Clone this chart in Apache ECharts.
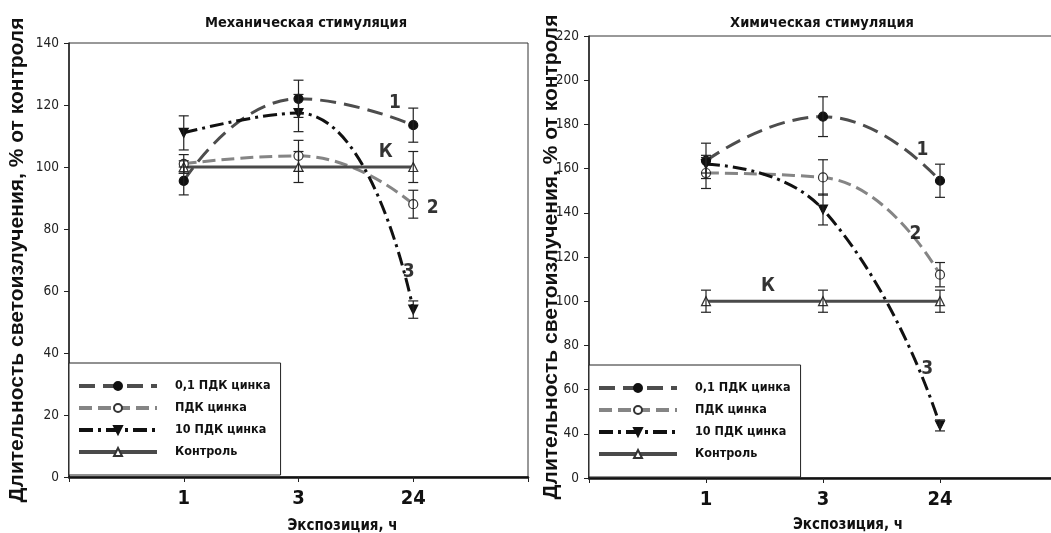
<!DOCTYPE html>
<html>
<head>
<meta charset="utf-8">
<script src="https://cdn.jsdelivr.net/npm/echarts@6/dist/echarts.min.js"></script>
<style>
  html, body { margin: 0; padding: 0; background: #fff; }
  #chart { width: 1051px; height: 533px; }
</style>
</head>
<body>
<div id="chart"></div>
<script>
  // категории оси X (экспозиция, ч)
  const exposures = ['1', '3', '24'];
  const seriesNames = ['0,1 ПДК цинка', 'ПДК цинка', '10 ПДК цинка', 'Контроль'];

  // Механическая стимуляция
  const mechLow = [95.5, 122, 113.5];
  const mechLowErr = [4.5, 6, 5.5];
  const mechPdk = [101, 103.6, 88];
  const mechPdkErr = [3, 5, 4.5];
  const mechHigh = [111, 117.4, 54];
  const mechHighErr = [5.5, 6, 2.8];
  const mechCtrl = [100, 100, 100];
  const mechCtrlErr = [2, 5, 5];
  const mechTicks = [0, 140, 20];
  // подписи кривых: [x, y, текст]
  const mechNotes = [[2.84, 120.6, '1'], [3.17, 86.8, '2'], [2.96, 66, '3'], [2.76, 104.8, 'К']];

  // Химическая стимуляция
  const chemLow = [163.5, 183.5, 154.5];
  const chemLowErr = [8, 9, 7.5];
  const chemPdk = [158, 156, 112];
  const chemPdkErr = [7, 8, 5.5];
  const chemHigh = [162, 141.5, 43.8];
  const chemHighErr = [4, 7, 2.5];
  const chemCtrl = [100, 100, 100];
  const chemCtrlErr = [5, 5, 5];
  const chemTicks = [20, 220, 20];
  const chemNotes = [[2.85, 168.2, '1'], [2.79, 130.5, '2'], [2.89, 69.5, '3'], [1.53, 106.8, 'К']];

  const narrow = "'Liberation Sans Narrow', 'Arial Narrow', 'DejaVu Sans Condensed', sans-serif";
  const wide = "'Liberation Sans', Arial, sans-serif";

  const styles = [
    { line: '#4d4d4d', type: [16, 8], symbol: 'circle', fill: '#111', border: '#111' },
    { line: '#858585', type: [13, 6], symbol: 'circle', fill: '#fff', border: '#333' },
    { line: '#111', type: [14, 5, 3, 5], symbol: 'path://M0,0 L10,0 L5,10 Z', fill: '#111', border: '#111' },
    { line: '#4a4a4a', type: 'solid', symbol: 'triangle', fill: '#fff', border: '#333' }
  ];

  const toPts = vals => vals.map((v, i) => [i + 1, v]);

  function lineSeries(idx, vals, k) {
    const s = styles[k];
    return {
      name: seriesNames[k], type: 'line', xAxisIndex: idx, yAxisIndex: idx,
      data: toPts(vals), smooth: 0.5, symbol: s.symbol, symbolSize: 9, z: 3,
      lineStyle: { color: s.line, width: 3, type: s.type },
      itemStyle: { color: s.fill, borderColor: s.border, borderWidth: 1.2 }
    };
  }

  function errSeries(idx, vals, errs) {
    return {
      type: 'custom', xAxisIndex: idx, yAxisIndex: idx, silent: true, z: 4,
      data: vals.map((v, i) => [i + 1, v - errs[i], v + errs[i]]),
      encode: { x: 0, y: [1, 2] },
      renderItem(params, api) {
        const lo = api.coord([api.value(0), api.value(1)]);
        const hi = api.coord([api.value(0), api.value(2)]);
        const st = { stroke: '#222', lineWidth: 1.2 };
        return { type: 'group', children: [
          { type: 'line', shape: { x1: lo[0], y1: lo[1], x2: hi[0], y2: hi[1] }, style: st },
          { type: 'line', shape: { x1: lo[0] - 5, y1: lo[1], x2: lo[0] + 5, y2: lo[1] }, style: st },
          { type: 'line', shape: { x1: hi[0] - 5, y1: hi[1], x2: hi[0] + 5, y2: hi[1] }, style: st }
        ] };
      }
    };
  }

  function noteSeries(idx, notes) {
    return {
      type: 'scatter', xAxisIndex: idx, yAxisIndex: idx, silent: true, symbolSize: 0, z: 5,
      data: notes.map(n => ({ value: [n[0], n[1]], name: n[2] })),
      label: { show: true, position: 'inside', formatter: '{b}', color: '#000',
        fontFamily: narrow, fontWeight: 'bold', fontSize: 19 }
    };
  }

  function xAxis(idx, padLeft, gap) {
    return {
      type: 'value', gridIndex: idx, min: 0, max: 4, interval: 1,
      name: 'Экспозиция, ч', nameLocation: 'middle', nameGap: gap, nameMoveOverlap: false,
      nameTextStyle: { fontFamily: narrow, fontWeight: 'bold', fontSize: 15, color: '#111', padding: [0, 0, 0, padLeft] },
      axisLine: { lineStyle: { color: '#111', width: 2.5 } },
      axisTick: { length: 5, lineStyle: { color: '#222' } },
      axisLabel: { formatter: v => exposures[v - 1] || '', fontFamily: narrow, fontWeight: 'bold',
        fontSize: 20, color: '#111', margin: 12 },
      splitLine: { show: false }
    };
  }

  function yAxis(idx, ticks, gap) {
    return {
      type: 'value', gridIndex: idx, min: ticks[0], max: ticks[1], interval: ticks[2],
      name: 'Длительность светоизлучения, % от контроля', nameLocation: 'middle', nameGap: gap,
      nameMoveOverlap: false,
      nameTextStyle: { fontFamily: wide, fontWeight: 'bold', fontSize: 21, color: '#111' },
      axisLine: { show: true, lineStyle: { color: '#222', width: 1.5 } },
      axisTick: { show: true, length: 5, lineStyle: { color: '#222' } },
      // нижняя метка правой шкалы в оригинале подписана "0"
      axisLabel: { formatter: v => (v === ticks[0] ? '0' : String(v)), fontFamily: narrow,
        fontSize: 13.5, color: '#222', margin: 10 },
      splitLine: { show: false }
    };
  }

  function legend(left, top) {
    return {
      data: seriesNames, orient: 'vertical', left: left, top: top,
      itemWidth: 78, itemHeight: 10, itemGap: 8,
      padding: [16, 10, 16, 8],
      backgroundColor: '#fff', borderColor: '#222', borderWidth: 1,
      lineStyle: { width: 4 },
      textStyle: { fontFamily: narrow, fontWeight: 'bold', fontSize: 12.5, color: '#111',
        padding: [0, 0, 0, 13], lineHeight: 14 },
      selectedMode: false
    };
  }

  const chart = echarts.init(document.getElementById('chart'));
  chart.setOption({
    animation: false,
    backgroundColor: '#fff',
    title: [
      { text: 'Механическая стимуляция', left: 301, top: 11, textAlign: 'center',
        textStyle: { fontFamily: narrow, fontWeight: 'bold', fontSize: 14.5, color: '#111' } },
      { text: 'Химическая стимуляция', left: 817, top: 11, textAlign: 'center',
        textStyle: { fontFamily: narrow, fontWeight: 'bold', fontSize: 14.5, color: '#111' } }
    ],
    grid: [
      { left: 69, top: 43, width: 459, height: 434, show: true, borderColor: '#333', borderWidth: 1,
        outerBoundsMode: 'none' },
      { left: 589, top: 36, width: 468, height: 442, show: true, borderColor: '#333', borderWidth: 1,
        outerBoundsMode: 'none' }
    ],
    xAxis: [xAxis(0, 88, 42), xAxis(1, 50, 40)],
    yAxis: [yAxis(0, mechTicks, 41), yAxis(1, chemTicks, 27)],
    legend: [legend(69, 363), legend(589, 365)],
    series: [
      lineSeries(0, mechLow, 0), lineSeries(0, mechPdk, 1), lineSeries(0, mechHigh, 2), lineSeries(0, mechCtrl, 3),
      errSeries(0, mechLow, mechLowErr), errSeries(0, mechPdk, mechPdkErr),
      errSeries(0, mechHigh, mechHighErr), errSeries(0, mechCtrl, mechCtrlErr),
      noteSeries(0, mechNotes),
      lineSeries(1, chemLow, 0), lineSeries(1, chemPdk, 1), lineSeries(1, chemHigh, 2), lineSeries(1, chemCtrl, 3),
      errSeries(1, chemLow, chemLowErr), errSeries(1, chemPdk, chemPdkErr),
      errSeries(1, chemHigh, chemHighErr), errSeries(1, chemCtrl, chemCtrlErr),
      noteSeries(1, chemNotes)
    ]
  });
</script>
</body>
</html>
